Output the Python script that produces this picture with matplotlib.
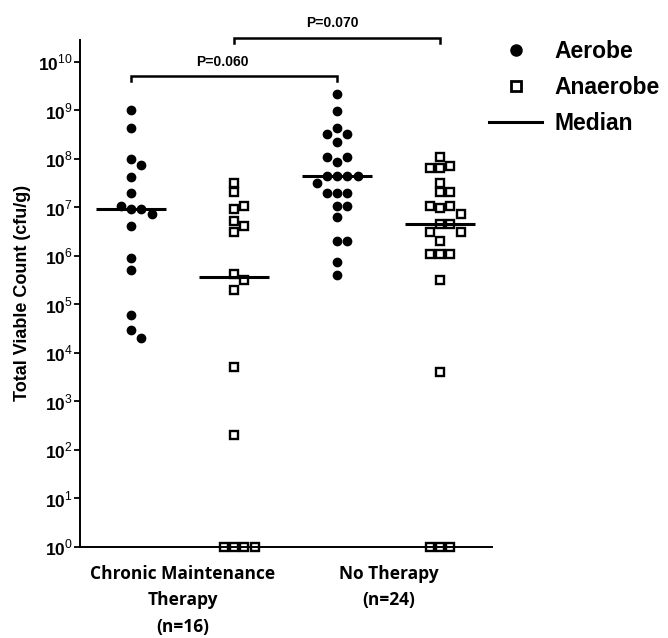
import numpy as np
import matplotlib
matplotlib.use('Agg')
import matplotlib.pyplot as plt
from matplotlib.lines import Line2D

plt.rcParams['font.family'] = ['Liberation Sans', 'DejaVu Sans']
plt.rcParams['mathtext.fontset'] = 'custom'
plt.rcParams['mathtext.bf'] = 'Liberation Sans:bold'
plt.rcParams['mathtext.rm'] = 'Liberation Sans'

# data (cfu/g)
group_labels = ['Chronic Maintenance\nTherapy\n(n=16)', 'No Therapy\n(n=24)']
cmt_aerobe = [1e9, 4.3e8, 1e8, 7.4e7, 4.2e7, 2.0e7, 9.3e6, 9.3e6, 1.07e7, 7.2e6,
              4.2e6, 5.1e5, 9.1e5, 5.9e4, 3.0e4, 2.0e4]
cmt_anaerobe = [2.1e7, 3.2e7, 9.3e6, 1.05e7, 3.1e6, 5.2e6, 4.2e6, 4.2e5, 2.0e5,
                3.1e5, 5e3, 2e2, 1, 1, 1, 1]
nt_aerobe = [2.2e9, 9.8e8, 4.4e8, 3.3e8, 3.3e8, 2.2e8, 8.5e7, 1.07e8, 1.07e8,
             4.4e7, 4.4e7, 4.4e7, 4.4e7, 3.2e7, 2.0e7, 2.0e7, 2.0e7, 6.3e6,
             1.05e7, 1.05e7, 2.0e6, 2.0e6, 4.1e5, 7.3e5]
nt_anaerobe = [1.1e8, 6.6e7, 7.1e7, 6.6e7, 3.2e7, 2.1e7, 2.1e7, 9.8e6, 1.07e7,
               1.07e7, 7.2e6, 4.5e6, 4.5e6, 3.1e6, 3.1e6, 2.0e6, 1.07e6, 1.07e6,
               1.07e6, 3.1e5, 4e3, 1, 1, 1]
comparisons = [(1, 3, 'P=0.060'), (2, 4, 'P=0.070')]

series = [cmt_aerobe, cmt_anaerobe, nt_aerobe, nt_anaerobe]
positions = [1, 2, 3, 4]


def swarm_x(ax, x0, values, step_px=10.3, gap_px=8.6):
    """spread points sideways in columns so they do not overlap"""
    pts = ax.transData.transform(np.column_stack([np.full(len(values), x0), values]))
    placed = []
    cols = []
    for y in pts[:, 1]:
        for c in [0, 1, -1, 2, -2, 3, -3]:
            if all(abs(y - py) >= gap_px for pc, py in placed if pc == c):
                break
        placed.append((c, y))
        cols.append(c)
    unit = ax.transData.transform([[1, 1]])[0, 0] - ax.transData.transform([[0, 1]])[0, 0]
    return x0 + np.array(cols) * step_px / unit


fig = plt.figure(figsize=(6.68, 6.38), dpi=100)
ax = fig.add_axes([79.5 / 668, 1 - 546.7 / 638, 412.2 / 668, 506.7 / 638])
ax.set_yscale('log')
ax.set_xlim(0.5, 4.5)
ax.set_ylim(1, 10 ** 10.45)

for i, (pos, vals) in enumerate(zip(positions, series)):
    xs = swarm_x(ax, pos, vals)
    if i % 2 == 0:
        ax.plot(xs, vals, 'o', color='black', markersize=6, clip_on=False, zorder=3)
    else:
        ax.plot(xs, vals, 's', mfc='none', mec='black', markersize=5.2, mew=1.7,
                clip_on=False, zorder=3)
    ax.hlines(np.median(vals), pos - 0.34, pos + 0.34, color='black', lw=2.2, zorder=4)

# significance brackets
for (a, b, txt), (ylo, yhi, ytxt, dx) in zip(comparisons, [(9.60, 9.70, 9.85, -0.11),
                                                         (10.38, 10.49, 10.65, -0.05)]):
    ax.plot([a, a, b, b], [10 ** ylo, 10 ** yhi, 10 ** yhi, 10 ** ylo], color='black',
            lw=1.8, clip_on=False, solid_joinstyle='miter')
    ax.text((a + b) / 2 + dx, 10 ** ytxt, txt, ha='center', va='bottom',
            fontsize=10, fontweight='bold')

ax.set_yticks([10.0 ** k for k in range(11)])
ax.set_yticklabels([r'$\mathbf{10}^{\mathrm{%d}}$' % k for k in range(11)], fontsize=12.5)
ax.minorticks_off()
ax.tick_params(axis='y', direction='out', length=4, width=1.3, pad=1)
ax.set_xticks([1.5, 3.5])
ax.set_xticklabels(group_labels, family=['Open Sans', 'DejaVu Sans'], fontweight='bold',
                   fontsize=12.5, linespacing=1.6)
ax.tick_params(axis='x', length=0, pad=13)
ax.set_ylabel('Total Viable Count (cfu/g)', fontsize=13, fontweight='bold', labelpad=5)

for s in ['top', 'right']:
    ax.spines[s].set_visible(False)
for s in ['left', 'bottom']:
    ax.spines[s].set_linewidth(1.4)

handles = [Line2D([], [], marker='o', color='black', ls='none', markersize=8),
           Line2D([], [], marker='s', mfc='none', mec='black', ls='none',
                  markersize=6.5, mew=2),
           Line2D([], [], color='black', lw=2.2)]
leg = fig.legend(handles, ['Aerobe', 'Anaerobe', 'Median'], loc='upper left',
                 bbox_to_anchor=(478 / 668, 1 - 29 / 638), frameon=False,
                 borderpad=0, handlelength=2.3, handletextpad=0.55, labelspacing=0.55,
                 fontsize=16.5)
for t in leg.get_texts():
    t.set_fontweight('bold')

fig.savefig('out.png', dpi=100)
